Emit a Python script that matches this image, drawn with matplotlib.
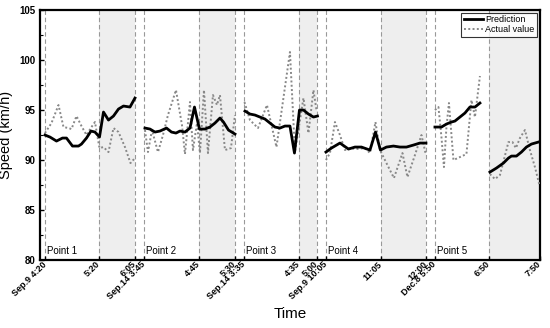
import numpy as np
import matplotlib.pyplot as plt
import matplotlib.transforms as mtransforms

plt.rcParams.update({
    "font.family": ["Liberation Sans", "DejaVu Sans"],
    "font.size": 7,
})

# -------------------- DATA --------------------
# x in time-index units (0..100), one list per segment
pred_x = [
    [1.0, 2.0, 3.3, 4.5, 5.3, 6.5, 7.7, 8.3, 9.3, 10.2, 11.0, 11.9, 12.7, 13.7, 14.7, 15.7, 16.7, 18.0, 19.0],
    [21.0, 22.0, 23.0, 24.0, 25.3, 26.3, 27.2, 28.0, 29.0, 30.0, 30.9, 31.9, 33.0, 34.0, 35.0, 36.0, 36.7, 37.7, 39.0],
    [41.0, 42.0, 43.0, 44.0, 45.0, 46.0, 47.0, 48.0, 49.0, 50.0, 50.9, 51.9, 52.7, 53.7, 54.7, 55.5],
    [57.2, 58.3, 60.0, 61.7, 63.0, 64.3, 66.0, 67.1, 68.1, 69.3, 70.7, 72.0, 73.3, 74.7, 76.0, 77.2],
    [79.0, 80.3, 81.3, 82.3, 83.0, 84.0, 85.0, 86.0, 87.0, 88.0],
    [90.0, 91.3, 92.7, 93.7, 94.3, 95.3, 96.3, 97.3, 98.3, 99.7],
]
pred_y = [
    [92.5, 92.3, 91.9, 92.2, 92.2, 91.4, 91.4, 91.6, 92.2, 92.9, 92.8, 92.3, 94.8, 94.0, 94.4, 95.1, 95.4, 95.3, 96.2],
    [93.2, 93.1, 92.8, 92.9, 93.2, 92.8, 92.7, 92.9, 92.8, 93.2, 95.3, 93.1, 93.1, 93.3, 93.7, 94.2, 93.8, 93.0, 92.6],
    [94.9, 94.6, 94.5, 94.3, 94.1, 93.7, 93.3, 93.2, 93.4, 93.4, 90.7, 95.0, 95.0, 94.6, 94.3, 94.4],
    [90.8, 91.2, 91.7, 91.1, 91.3, 91.3, 91.0, 92.8, 91.0, 91.3, 91.4, 91.3, 91.3, 91.5, 91.7, 91.7],
    [93.3, 93.3, 93.6, 93.8, 93.9, 94.3, 94.7, 95.3, 95.3, 95.7],
    [88.8, 89.2, 89.7, 90.2, 90.4, 90.4, 90.8, 91.3, 91.6, 91.8],
]

act_x = [
    [1.0, 2.3, 3.7, 4.7, 5.7, 6.3, 7.3, 8.3, 9.3, 10.3, 11.0, 11.9, 12.7, 13.7, 14.7, 15.7, 17.0, 18.1, 19.0],
    [21.0, 21.6, 22.4, 23.6, 24.6, 25.6, 27.2, 28.4, 29.0, 30.0, 30.6, 31.4, 32.0, 32.8, 33.6, 34.6, 35.4, 36.0, 37.0, 38.2, 39.0],
    [40.9, 42.0, 43.6, 45.4, 47.3, 50.0, 51.0, 52.7, 53.7, 54.7, 55.3],
    [57.2, 58.0, 59.0, 60.0, 61.0, 62.0, 63.2, 65.0, 66.0, 67.1, 68.0, 69.7, 70.8, 72.5, 73.5, 75.0, 76.3, 77.2],
    [79.0, 79.7, 80.3, 80.8, 81.3, 81.8, 82.7, 84.0, 85.3, 86.3, 87.0, 88.0],
    [90.0, 91.0, 92.0, 93.7, 94.5, 95.2, 96.0, 97.0, 98.0, 99.0, 99.9],
]
act_y = [
    [92.7, 93.7, 95.5, 93.3, 93.2, 93.1, 94.4, 93.4, 92.5, 93.3, 93.8, 91.2, 91.3, 90.8, 93.2, 92.8, 91.3, 89.7, 90.2],
    [93.0, 90.8, 93.0, 90.8, 92.5, 94.5, 97.0, 93.5, 90.6, 95.8, 91.0, 93.7, 90.7, 97.0, 90.7, 96.5, 95.5, 96.5, 91.0, 91.2, 94.5],
    [95.8, 94.0, 93.2, 95.5, 91.3, 100.8, 90.8, 96.2, 92.7, 97.0, 95.0],
    [90.0, 90.7, 93.8, 92.5, 91.0, 91.2, 91.1, 91.2, 90.7, 93.8, 91.0, 89.3, 88.2, 90.7, 88.3, 90.5, 92.5, 90.5],
    [95.0, 95.3, 92.3, 89.3, 93.3, 95.7, 90.0, 90.3, 90.6, 96.0, 94.3, 98.4],
    [88.6, 88.1, 88.5, 91.8, 91.8, 91.2, 92.2, 93.0, 91.0, 89.3, 87.5],
]

tick_pos = [1.0, 11.8, 19.0, 20.8, 31.8, 39.0, 40.8, 51.8, 55.4, 57.2, 68.2, 77.2, 79.0, 89.8, 100.0]
tick_labels = ["Sep.9 4:20", "5:20", "6:05", "Sep.14 3:45", "4:45", "5:30", "Sep.14 3:35",
               "4:35", "5:00", "Sep.9 10:05", "11:05", "12:00", "Dec.8 5:50", "6:50", "7:50"]

shade_spans = [(11.8, 19.0), (31.8, 39.0), (51.8, 55.4), (68.2, 77.2), (89.8, 100.0)]
point_starts = [1.0, 20.8, 40.8, 57.2, 79.0]
point_names = ["Point 1", "Point 2", "Point 3", "Point 4", "Point 5"]

# -------------------- FIGURE --------------------
fig = plt.figure(figsize=(5.5, 3.28), dpi=100)
ax = fig.add_axes([0.0727, 0.207, 0.909, 0.7625])

for a, b in shade_spans:
    ax.axvspan(a, b, color="#eeeeee", zorder=0, lw=0)
for t in tick_pos[:-1]:
    ax.axvline(t, color="#999999", lw=0.8, ls=(0, (4, 2.5)), zorder=1)

for i, (xs, ys) in enumerate(zip(pred_x, pred_y)):
    ax.plot(xs, ys, color="black", lw=2.0, zorder=4,
            label="Prediction" if i == 0 else None)
for i, (xs, ys) in enumerate(zip(act_x, act_y)):
    ax.plot(xs, ys, color="#888888", lw=1.4, ls=(0, (1, 1.2)), zorder=3,
            label="Actual value" if i == 0 else None)

for x0, name in zip(point_starts, point_names):
    ax.text(x0 + 0.5, 80.4, name, fontsize=7, ha="left", va="bottom")

ax.set_xlim(0, 100)
ax.set_ylim(80, 105)
ax.set_yticks([80, 85, 90, 95, 100, 105])
ax.set_yticks(np.arange(82.5, 105, 5), minor=True)
ax.set_xticks(tick_pos)
ax.set_xticklabels(tick_labels, rotation=45, ha="right", va="center",
                   rotation_mode="anchor", fontweight="bold", fontsize=6.5)
shift = mtransforms.ScaledTranslation(0.04, -0.03, fig.dpi_scale_trans)
for lbl in ax.get_xticklabels():
    lbl.set_transform(lbl.get_transform() + shift)
for lbl in ax.get_yticklabels():
    lbl.set_fontweight("bold")
ax.tick_params(axis="both", direction="in", length=3, width=1)
ax.tick_params(axis="y", which="minor", direction="in", length=2, width=0.8)
ax.tick_params(axis="x", pad=2)

for s in ax.spines.values():
    s.set_linewidth(1.6)

ax.set_xlabel("Time", fontsize=11, labelpad=4)
ax.set_ylabel("Speed (km/h)", fontsize=10.5, labelpad=4)

leg = ax.legend(loc="upper right", fontsize=6.5, frameon=True, fancybox=False,
                edgecolor="black", handlelength=2.2, handletextpad=0.2,
                borderpad=0.3, labelspacing=0.1, borderaxespad=0.3)
leg.get_frame().set_linewidth(0.8)

plt.savefig("out.png", dpi=100)
